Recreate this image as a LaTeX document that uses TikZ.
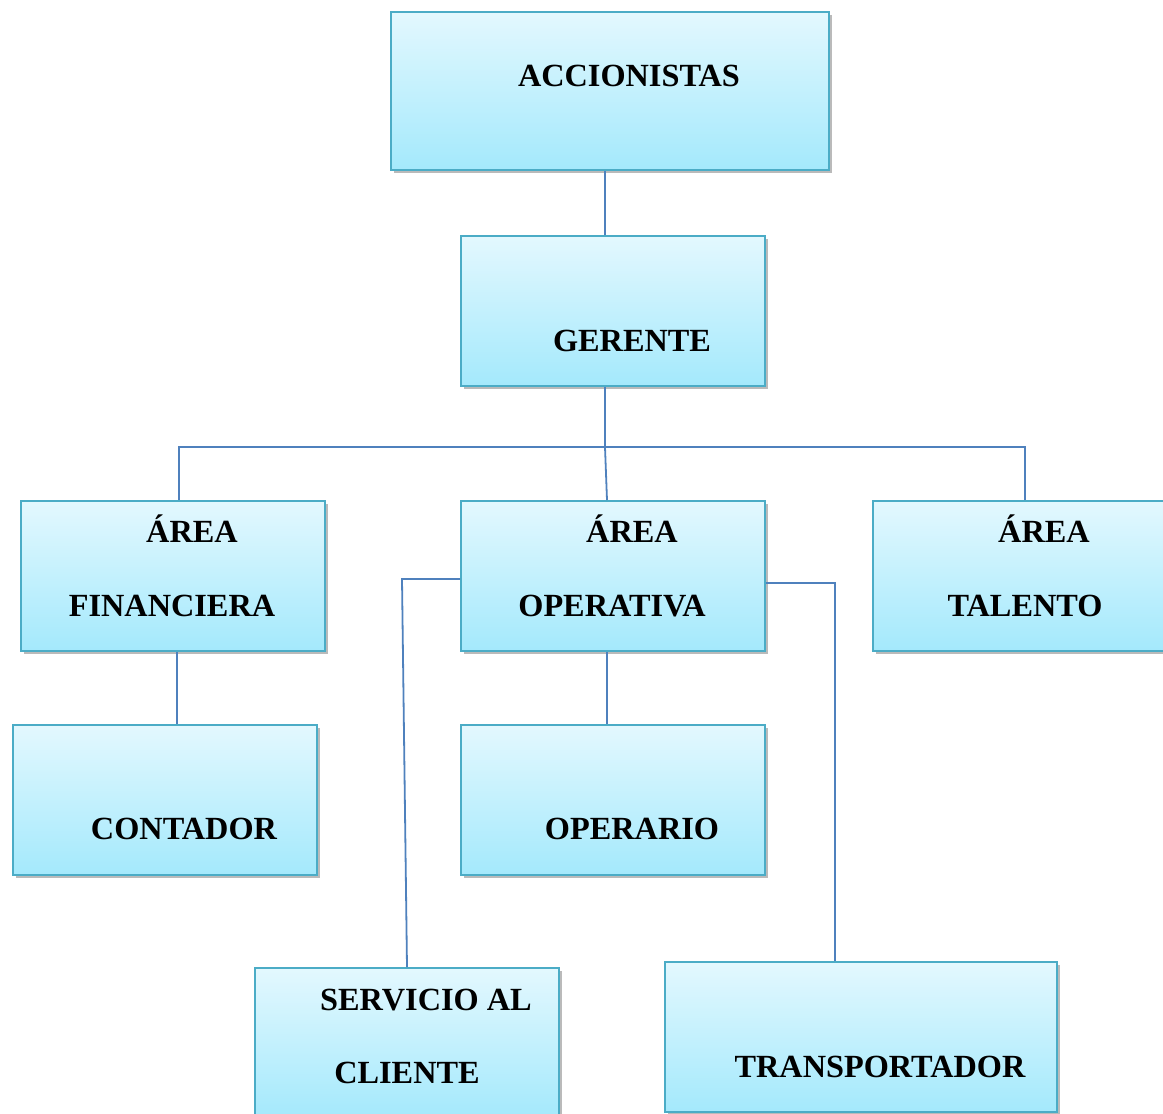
\documentclass[tikz,border=0pt]{standalone}
\usepackage{fontspec}
\setmainfont{Liberation Serif}
\usetikzlibrary{shadows}
\definecolor{boxline}{HTML}{4BACC6}
\definecolor{boxtop}{HTML}{E3F8FE}
\definecolor{boxbottom}{HTML}{A4E9FC}
\definecolor{linkblue}{HTML}{4F81BD}
\begin{document}
\begin{tikzpicture}[x=1pt, y=-1pt,
        unit/.style={rectangle, draw=boxline, line width=2pt, top color=boxtop, bottom color=boxbottom,
            minimum width=304pt, minimum height=150pt, inner sep=0pt,
            drop shadow={shadow xshift=3pt, shadow yshift=-3pt, opacity=0.45, fill=black!60}},
        tag/.style={anchor=base, inner sep=0pt, font=\bfseries\fontsize{32.3}{38}\selectfont},
        link/.style={draw=linkblue, line width=1.8pt}]
        \useasboundingbox (0,0) rectangle (1163,1114);

        \node[unit, minimum width=438pt, minimum height=158pt](acc) at (610,91) {};
        \node[unit](ger) at (613,311) {};
        \node[unit](fin) at (173,576) {};
        \node[unit](ope) at (613,576) {};
        \node[unit](tal) at (1025,576) {};
        \node[unit](con) at (165,800) {};
        \node[unit](opr) at (613,800) {};
        \node[unit](ser) at (407,1043) {};
        \node[unit, minimum width=392pt](tra) at (861,1037) {};

        \node[tag](acctxt) at (629,86) {ACCIONISTAS};
        \node[tag](gertxt) at (632,351) {GERENTE};
        \node[tag](fintxt1) at (192,542) {ÁREA};
        \node[tag](fintxt2) at (172,616) {FINANCIERA};
        \node[tag](opetxt1) at (632,542) {ÁREA};
        \node[tag](opetxt2) at (612,616) {OPERATIVA};
        \node[tag](taltxt1) at (1044,542) {ÁREA};
        \node[tag](taltxt2) at (1025,616) {TALENTO};
        \node[tag](contxt) at (184,839) {CONTADOR};
        \node[tag](oprtxt) at (632,839) {OPERARIO};
        \node[tag](sertxt1) at (426,1010) {SERVICIO AL};
        \node[tag](sertxt2) at (407,1083) {CLIENTE};
        \node[tag](tratxt) at (880,1077) {TRANSPORTADOR};

        \coordinate (hub) at (605,447);

        \draw[link] ([xshift=-5pt]acc.south) -- ([xshift=-8pt]ger.north);
        \draw[link] ([xshift=-8pt]ger.south) -- (hub) -- ([xshift=-6pt]ope.north);
        \draw[link] ([xshift=6pt]fin.north) |- (hub) -| (tal.north);
        \draw[link] ([xshift=4pt]fin.south) -- ([xshift=4pt]fin.south |- con.north);
        \draw[link] ([xshift=-6pt]ope.south) -- ([xshift=-6pt]opr.north);
        \draw[link] ([yshift=-3pt]ope.west) -- ++(-58,0) -- (ser.north);
        \draw[link] ([yshift=-7pt]ope.east) -| ([xshift=-26pt]tra.north);
    \end{tikzpicture}
\end{document}
